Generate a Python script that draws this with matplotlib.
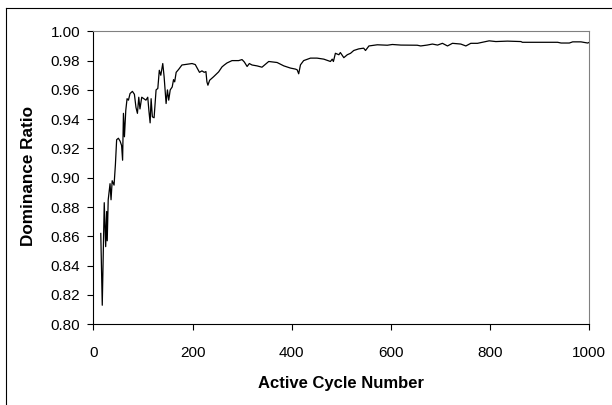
import matplotlib
matplotlib.use("Agg")
import matplotlib.pyplot as plt
from matplotlib.lines import Line2D

cycles = [15, 18, 22, 24.9, 26.9, 28, 30, 33.7, 35.7, 38, 41.8, 44.5, 47, 50.5, 54, 57, 59,
          60.7, 62.7, 65.4, 68, 70.8, 74, 78.8, 82.8, 86, 88.9, 91.6, 94, 97.6, 102, 106,
          109.7, 112, 114.5, 116.5, 119, 122.5, 126.5, 130, 133, 136, 140, 142.7, 146.7,
          149.4, 152, 155, 159, 161.7, 164, 167, 172, 178.6, 188.7, 199, 205.5, 210, 214,
          219, 223.6, 227, 229, 231, 234.5, 242.5, 252.6, 259.4, 264, 269.5, 279.6, 293,
          299.8, 304.5, 310, 314.5, 320, 330, 340, 353.6, 370.5, 384, 397.4, 407.5, 411,
          414, 417.6, 424, 437.8, 451, 464.6, 478, 481.6, 484, 488, 495, 498, 505, 512,
          518.6, 525, 535, 545, 548.7, 555.6, 572.5, 592.7, 602.8, 620, 653, 660, 673,
          683.6, 694, 703.8, 714, 724, 740.8, 751, 761, 774.5, 784.6, 798, 811.5, 835,
          862, 865, 902.4, 936, 943, 959.6, 966.4, 983, 996.7, 1000]
ratio = [0.862, 0.813, 0.883, 0.853, 0.877, 0.857, 0.885, 0.896, 0.885, 0.898, 0.895,
         0.909, 0.926, 0.927, 0.925, 0.922, 0.912, 0.944, 0.928, 0.946, 0.954, 0.953,
         0.9575, 0.959, 0.957, 0.948, 0.944, 0.955, 0.947, 0.955, 0.954, 0.953, 0.955,
         0.946, 0.9375, 0.954, 0.9416, 0.941, 0.960, 0.961, 0.9734, 0.970, 0.978, 0.969,
         0.9507, 0.960, 0.953, 0.960, 0.962, 0.967, 0.9655, 0.972, 0.974, 0.977, 0.9775,
         0.978, 0.9773, 0.9745, 0.972, 0.973, 0.972, 0.9725, 0.9655, 0.9632, 0.9666,
         0.969, 0.9723, 0.9757, 0.977, 0.9784, 0.980, 0.980, 0.9807, 0.979, 0.976, 0.978,
         0.977, 0.9764, 0.9755, 0.9794, 0.9787, 0.9764, 0.9749, 0.9742, 0.9737, 0.971,
         0.9771, 0.980, 0.9817, 0.9817, 0.981, 0.9794, 0.981, 0.9794, 0.985, 0.984,
         0.9855, 0.982, 0.984, 0.985, 0.9869, 0.988, 0.9885, 0.9869, 0.990, 0.9908,
         0.9905, 0.991, 0.9906, 0.9905, 0.990, 0.9906, 0.9913, 0.9906, 0.9918, 0.990,
         0.9918, 0.9913, 0.990, 0.9918, 0.9918, 0.9925, 0.9935, 0.993, 0.9933, 0.993,
         0.9925, 0.9925, 0.9925, 0.992, 0.992, 0.9928, 0.9928, 0.992, 0.9925]

x_ticks = [0, 200, 400, 600, 800, 1000]
y_ticks = [0.80, 0.82, 0.84, 0.86, 0.88, 0.90, 0.92, 0.94, 0.96, 0.98, 1.00]

plt.rcParams['font.family'] = ['Liberation Sans', 'DejaVu Sans']

fig = plt.figure(figsize=(6.12, 4.05), dpi=100)
ax = fig.add_axes([0.1525, 0.1993, 0.8105, 0.7234])
ax.plot(cycles, ratio, color='black', linewidth=0.9)
ax.set_xlim(0, 1000)
ax.set_ylim(0.80, 1.00)
ax.set_xticks(x_ticks)
ax.set_xticklabels([str(v) for v in x_ticks])
ax.set_yticks(y_ticks)
ax.set_yticklabels([f"{v:.2f}" for v in y_ticks])
ax.tick_params(axis='both', direction='out', length=4.3, width=0.8, labelsize=11,
               color='black')
ax.tick_params(axis='y', pad=5)
ax.tick_params(axis='x', pad=11)
for s in ['left', 'bottom']:
    ax.spines[s].set_color('black')
    ax.spines[s].set_linewidth(0.8)
for s in ['top', 'right']:
    ax.spines[s].set_color('#808080')
    ax.spines[s].set_linewidth(0.8)

fig.text(29 / 612, 1 - 176 / 405, 'Dominance Ratio', rotation=90, ha='center', va='center',
         fontsize=12.3, fontweight='bold')
fig.text(340.5 / 612, 1 - 383.5 / 405, 'Active Cycle Number', ha='center', va='center',
         fontsize=12, fontweight='bold')

# outer chart border (left and top edges visible)
fig.add_artist(Line2D([5.5 / 612, 5.5 / 612], [0, 1 - 8 / 405], transform=fig.transFigure,
                      color='black', linewidth=0.8))
fig.add_artist(Line2D([5.5 / 612, 1], [1 - 8 / 405, 1 - 8 / 405], transform=fig.transFigure,
                      color='black', linewidth=0.8))

fig.savefig('out.png', dpi=100)
